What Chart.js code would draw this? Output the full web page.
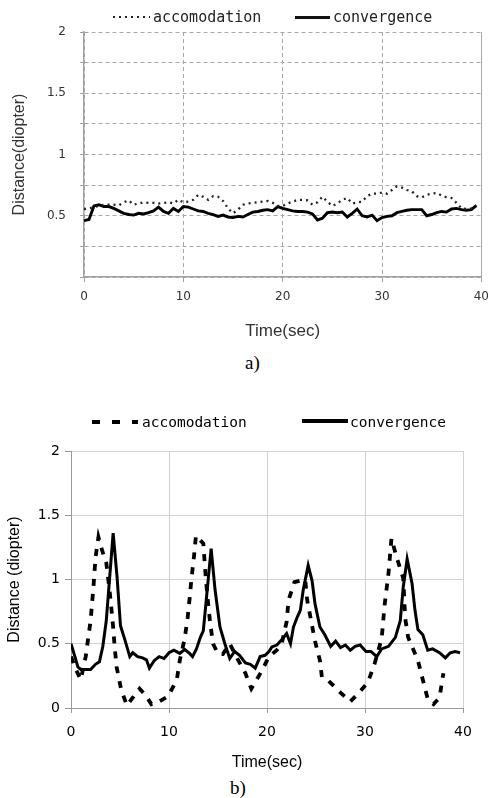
<!DOCTYPE html>
<html><head><meta charset="utf-8">
<script src="https://cdn.jsdelivr.net/npm/chart.js@4.4.1/dist/chart.umd.min.js"></script>
<style>
html,body{margin:0;padding:0;background:#fff;width:497px;height:798px;overflow:hidden;position:relative;}
canvas{position:absolute;left:0;}
.t{position:absolute;white-space:nowrap;}
.lgA{font-family:"DejaVu Sans Mono",monospace;font-size:15px;line-height:18px;color:#222;}
.lgB{font-family:"DejaVu Sans Mono",monospace;font-size:14.5px;line-height:18px;color:#000;}
.cap{font-family:"Liberation Serif","DejaVu Serif",serif;font-size:19px;line-height:22px;color:#000;}
</style></head>
<body>
<canvas id="ca" width="497" height="345" style="top:0px"></canvas>
<canvas id="cb" width="497" height="345" style="top:430px"></canvas>

<div class="t" style="left:113px;top:16px;width:37px;height:2px;background:repeating-linear-gradient(to right,#222 0 2px,transparent 2px 6px);"></div>
<div class="t lgA" style="left:153px;top:8px;">accomodation</div>
<div class="t" style="left:295px;top:16px;width:35px;height:2.5px;background:#111;"></div>
<div class="t lgA" style="left:333px;top:8px;">convergence</div>
<div class="t cap" style="left:245px;top:352px;">a)</div>

<div class="t" style="left:92px;top:420px;width:46px;height:4px;background:repeating-linear-gradient(to right,#000 0 8px,transparent 8px 20px);"></div>
<div class="t lgB" style="left:142px;top:413px;">accomodation</div>
<div class="t" style="left:302px;top:419px;width:46px;height:4px;background:#000;"></div>
<div class="t lgB" style="left:350px;top:413px;">convergence</div>
<div class="t cap" style="left:230px;top:777px;">b)</div>

<script>
// ---- chart a) ----
const timeA = [0,0.5,1,1.5,2,2.5,3,3.5,4,4.5,5,5.5,6,6.5,7,7.5,8,8.5,9,9.5,
10,10.5,11,11.5,12,12.5,13,13.5,14,14.5,15,15.5,16,16.5,17,17.5,18,18.5,19,19.5,
20,20.5,21,21.5,22,22.5,23,23.5,24,24.5,25,25.5,26,26.5,27,27.5,28,28.5,29,29.5,
30,30.5,31,31.5,32,32.5,33,33.5,34,34.5,35,35.5,36,36.5,37,37.5,38,38.5,39,39.5];
const accA = [0.555,0.56,0.57,0.58,0.59,0.59,0.59,0.585,0.61,0.625,
0.59,0.60,0.61,0.605,0.605,0.6,0.605,0.61,0.6,0.63,
0.61,0.615,0.63,0.67,0.655,0.63,0.66,0.655,0.62,0.56,
0.52,0.55,0.59,0.6,0.605,0.61,0.615,0.62,0.605,0.58,
0.58,0.6,0.615,0.63,0.63,0.625,0.59,0.61,0.655,0.615,
0.58,0.6,0.63,0.645,0.6,0.61,0.615,0.66,0.68,0.68,
0.69,0.68,0.71,0.74,0.73,0.71,0.70,0.66,0.65,0.67,
0.68,0.685,0.665,0.65,0.645,0.605,0.56,0.555,0.56,0.58];
const convA = [0.46,0.47,0.58,0.59,0.575,0.575,0.56,0.54,0.52,0.51,
0.505,0.52,0.515,0.525,0.54,0.57,0.535,0.52,0.56,0.535,
0.575,0.57,0.555,0.54,0.535,0.52,0.51,0.495,0.505,0.49,
0.485,0.495,0.49,0.51,0.53,0.535,0.545,0.55,0.54,0.575,
0.56,0.55,0.54,0.535,0.535,0.53,0.515,0.465,0.48,0.525,
0.53,0.525,0.53,0.49,0.52,0.555,0.5,0.49,0.505,0.46,
0.485,0.495,0.5,0.525,0.535,0.545,0.55,0.55,0.55,0.5,
0.51,0.525,0.535,0.53,0.555,0.56,0.55,0.545,0.55,0.585];

// ---- chart b) ----
const timeAccB = [0,0.5,1.0,1.5,2.0,2.3,2.5,2.8,3.2,3.6,3.9,4.1,4.3,4.45,4.65,5.1,5.7,6.3,7.0,7.6,
8.2,9.0,9.9,10.8,11.1,11.6,11.9,12.1,12.3,12.55,12.75,13.5,13.65,13.8,14.0,14.2,14.5,15.0,15.5,16.2,
17.0,17.8,18.4,19.4,20.2,21.0,21.5,22.0,22.2,22.8,23.9,24.1,24.5,24.9,25.4,25.6,26.3,27.5,28.5,29.4,
30.3,31.0,31.7,32.0,32.4,32.7,33.2,33.9,34.1,34.4,35.4,35.9,36.4,37.0,37.6,38.0];
const accB = [0.40,0.30,0.22,0.40,0.68,0.95,1.17,1.33,1.22,1.13,0.94,0.79,0.63,0.48,0.32,0.15,0.02,0.08,0.15,0.10,
0.03,0.05,0.09,0.22,0.37,0.54,0.70,0.85,1.01,1.18,1.34,1.28,1.12,0.97,0.81,0.66,0.50,0.42,0.42,0.50,
0.38,0.27,0.15,0.28,0.40,0.45,0.50,0.67,0.84,0.98,1.00,0.84,0.68,0.52,0.37,0.24,0.21,0.12,0.05,0.12,
0.20,0.35,0.54,0.80,1.05,1.32,1.18,1.01,0.70,0.55,0.37,0.22,0.07,0.03,0.08,0.27];
const timeConvB = [0,0.4,0.7,1.0,1.5,2.0,2.5,2.9,3.25,3.6,3.95,4.3,4.7,5.05,5.5,6.0,6.3,6.8,7.3,7.7,
8.0,8.5,9.0,9.5,10.0,10.5,11.1,11.6,12.1,12.4,12.8,13.2,13.5,13.8,14.3,14.7,15.2,15.7,16.2,16.7,
17.2,17.8,18.3,18.8,19.3,19.8,20.2,20.5,21.0,21.5,22.0,22.4,22.7,23.1,23.4,23.7,24.2,24.6,24.9,25.4,
25.9,26.5,27.0,27.5,28.0,28.5,29.0,29.5,30.1,30.6,31.2,31.7,32.4,33.1,33.6,33.9,34.3,34.8,35.1,35.4,
35.9,36.4,36.9,37.6,38.2,38.7,39.2,39.7];
const convB = [0.50,0.40,0.32,0.30,0.30,0.30,0.34,0.36,0.48,0.68,1.02,1.36,1.02,0.64,0.53,0.40,0.43,0.40,0.39,0.375,
0.31,0.37,0.40,0.385,0.43,0.45,0.425,0.455,0.425,0.40,0.46,0.55,0.60,0.84,1.24,0.92,0.63,0.50,0.385,0.44,
0.41,0.35,0.34,0.31,0.40,0.41,0.44,0.475,0.49,0.53,0.58,0.50,0.63,0.71,0.76,0.92,1.11,0.99,0.81,0.63,
0.57,0.48,0.52,0.47,0.49,0.45,0.48,0.49,0.44,0.44,0.40,0.46,0.48,0.55,0.68,0.94,1.16,0.97,0.76,0.61,
0.57,0.45,0.46,0.43,0.39,0.43,0.44,0.43];

const xTicks = [0,10,20,30,40];
const yTicksA = [0.5,1,1.5,2];
const yTicksB = [0,0.5,1,1.5,2];

const pts = (xs, ys) => xs.map((x, i) => ({x: x, y: ys[i]}));

new Chart(document.getElementById('ca'), {
  type: 'line',
  data: {datasets: [
    {label: 'accomodation', data: pts(timeA, accA), borderColor: '#222', borderWidth: 2.3,
     borderDash: [2, 4], pointRadius: 0, tension: 0, fill: false},
    {label: 'convergence', data: pts(timeA, convA), borderColor: '#000', borderWidth: 2.9,
     pointRadius: 0, tension: 0, fill: false}
  ]},
  options: {
    responsive: false, animation: false, events: [],
    layout: {padding: {left: 0, right: 7, top: 32, bottom: 0}},
    plugins: {legend: {display: false}, tooltip: {enabled: false}},
    scales: {
      x: {type: 'linear', min: 0, max: 40,
        afterFit: s => { s.height = 68; },
        ticks: {stepSize: 10, autoSkip: false, maxRotation: 0, padding: 8, color: '#333',
                font: {family: 'DejaVu Sans', size: 12},
                callback: v => xTicks.includes(v) ? String(v) : ''},
        grid: {color: '#a8a8a8', lineWidth: 1, tickLength: 5, tickColor: '#a0a0a0'},
        border: {color: '#a0a0a0', width: 1.5,
                 dash: c => (c.tick && c.tick.value === 40) ? [] : [4, 3]},
        title: {display: true, text: 'Time(sec)', color: '#333', padding: {top: 0, bottom: 3},
                font: {family: 'Liberation Sans', size: 17}}
      },
      y: {min: 0, max: 2,
        afterFit: s => { s.width = 84; },
        ticks: {stepSize: 0.25, autoSkip: false, padding: 14, color: '#333',
                font: {family: 'DejaVu Sans', size: 12},
                callback: v => yTicksA.some(t => Math.abs(t - v) < 1e-9) ? String(v) : ''},
        grid: {color: '#a8a8a8', lineWidth: 1, tickLength: 4, tickColor: '#a0a0a0'},
        border: {color: '#a0a0a0', width: 1.5, dash: [4, 3]},
        title: {display: true, text: 'Distance(diopter)', color: '#333', padding: {top: 10, bottom: 0},
                font: {family: 'Liberation Sans', size: 16}}
      }
    }
  }
});

new Chart(document.getElementById('cb'), {
  type: 'line',
  data: {datasets: [
    {label: 'accomodation', data: pts(timeAccB, accB), borderColor: '#000', borderWidth: 3.8,
     borderDash: [7, 8], pointRadius: 0, tension: 0, fill: false},
    {label: 'convergence', data: pts(timeConvB, convB), borderColor: '#000', borderWidth: 3,
     pointRadius: 0, tension: 0, fill: false}
  ]},
  options: {
    responsive: false, animation: false, events: [],
    layout: {padding: {left: 0, right: 34, top: 21, bottom: 0}},
    plugins: {legend: {display: false}, tooltip: {enabled: false}},
    scales: {
      x: {type: 'linear', min: 0, max: 40,
        afterFit: s => { s.height = 67; },
        ticks: {stepSize: 10, autoSkip: false, maxRotation: 0, padding: 11, color: '#000',
                font: {family: 'DejaVu Sans', size: 14},
                callback: v => xTicks.includes(v) ? String(v) : ''},
        grid: {color: '#d2d2d2', lineWidth: 1, tickLength: 5, tickColor: '#999'},
        border: {color: '#999', width: 1},
        title: {display: true, text: 'Time(sec)', color: '#000', padding: {top: 0, bottom: 3},
                font: {family: 'Liberation Sans', size: 16}}
      },
      y: {min: 0, max: 2,
        afterFit: s => { s.width = 71; },
        ticks: {stepSize: 0.5, autoSkip: false, padding: 5, color: '#000',
                font: {family: 'DejaVu Sans', size: 14},
                callback: v => yTicksB.some(t => Math.abs(t - v) < 1e-9) ? String(v) : ''},
        grid: {color: '#d2d2d2', lineWidth: 1, tickLength: 6, tickColor: '#999'},
        border: {color: '#999', width: 1},
        title: {display: true, text: 'Distance (diopter)', color: '#000', padding: {top: 5, bottom: 0},
                font: {family: 'Liberation Sans', size: 16}}
      }
    }
  }
});
</script>
</body></html>
